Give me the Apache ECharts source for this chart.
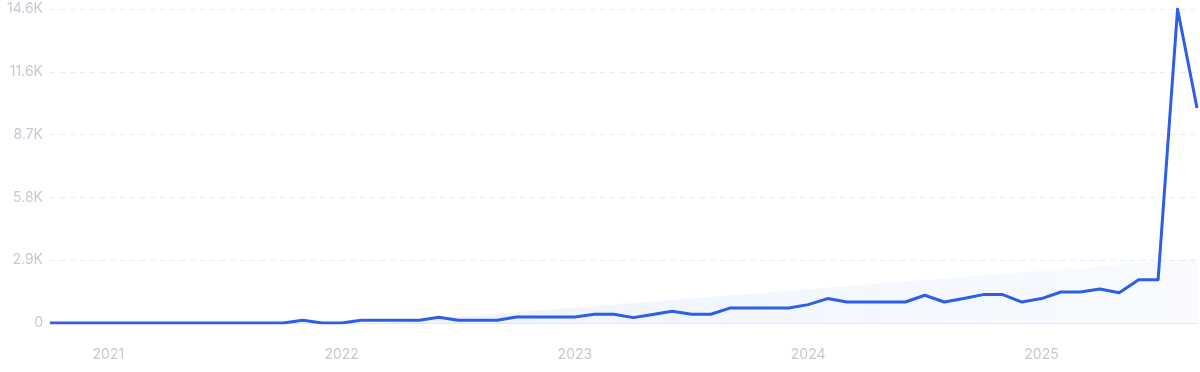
<!DOCTYPE html>
<html>
<head>
<meta charset="utf-8">
<script src="https://cdn.jsdelivr.net/npm/echarts@6/dist/echarts.min.js"></script>
<style>
html,body{margin:0;padding:0;background:#fff;}
#chart{width:1200px;height:372px;}
</style>
</head>
<body>
<div id="chart"></div>
<script>
// Monthly categories Oct 2020 .. Sep 2025
const months = [
  '2020-10','2020-11','2020-12',
  '2021-01','2021-02','2021-03','2021-04','2021-05','2021-06','2021-07','2021-08','2021-09','2021-10','2021-11','2021-12',
  '2022-01','2022-02','2022-03','2022-04','2022-05','2022-06','2022-07','2022-08','2022-09','2022-10','2022-11','2022-12',
  '2023-01','2023-02','2023-03','2023-04','2023-05','2023-06','2023-07','2023-08','2023-09','2023-10','2023-11','2023-12',
  '2024-01','2024-02','2024-03','2024-04','2024-05','2024-06','2024-07','2024-08','2024-09','2024-10','2024-11','2024-12',
  '2025-01','2025-02','2025-03','2025-04','2025-05','2025-06','2025-07','2025-08','2025-09'
];
const searches = [
  0,0,0,
  0,0,0,0,0,0,0,0,0,0,125,0,
  0,125,125,125,125,265,125,125,125,280,280,280,
  280,405,405,250,400,545,405,405,700,700,700,700,
  855,1135,975,975,975,975,1290,975,1135,1320,1320,975,
  1135,1440,1440,1580,1410,2015,2015,14600,10000
];
// Trend band: read start and end points
const trendIndex = [17, 59];
const trendValue = [0, 3000];
// Y axis
const yMin = 0, yMax = 14600, yStep = 2920;

const trend = months.map(() => null);
trendIndex.forEach((idx, k) => { trend[idx] = trendValue[k]; });

function fmtK(v) {
  if (v === 0) return '0';
  const k = Math.floor(v / 100) / 10;
  return k.toFixed(1) + 'K';
}

const chart = echarts.init(document.getElementById('chart'), null, {renderer: 'canvas'});
chart.setOption({
  animation: false,
  grid: {left: 50, right: 3, top: 9, bottom: 49, containLabel: false},
  xAxis: {
    type: 'category',
    data: months,
    boundaryGap: false,
    axisLine: {show: true, lineStyle: {color: '#e3e7f2', width: 1}},
    axisTick: {show: false},
    splitLine: {show: false},
    axisLabel: {
      interval: (idx, val) => val.endsWith('-01'),
      formatter: (val) => val.slice(0, 4),
      color: '#c6c8d2',
      fontFamily: 'Inter, "Noto Sans", sans-serif',
      fontSize: 14,
      margin: 25
    }
  },
  yAxis: {
    type: 'value',
    min: yMin, max: yMax, interval: yStep,
    axisLine: {show: false},
    axisTick: {show: false},
    splitLine: {show: true, lineStyle: {color: '#e6e9f3', type: [5, 5], width: 1}},
    axisLabel: {
      formatter: fmtK,
      color: '#c6c8d2',
      fontFamily: 'Inter, "Noto Sans", sans-serif',
      fontSize: 14,
      margin: 7
    }
  },
  series: [
    {
      type: 'line',
      data: trend,
      connectNulls: true,
      symbol: 'none',
      lineStyle: {width: 0, opacity: 0},
      areaStyle: {
        color: new echarts.graphic.LinearGradient(0, 0, 1, 0, [
          {offset: 0, color: 'rgba(60,125,240,0.13)'},
          {offset: 1, color: 'rgba(60,125,240,0.05)'}
        ])
      },
      silent: true,
      z: 1
    },
    {
      type: 'line',
      data: searches,
      symbol: 'none',
      lineStyle: {color: '#2d5fe6', width: 3, join: 'round'},
      z: 3
    }
  ]
});
</script>
</body>
</html>
